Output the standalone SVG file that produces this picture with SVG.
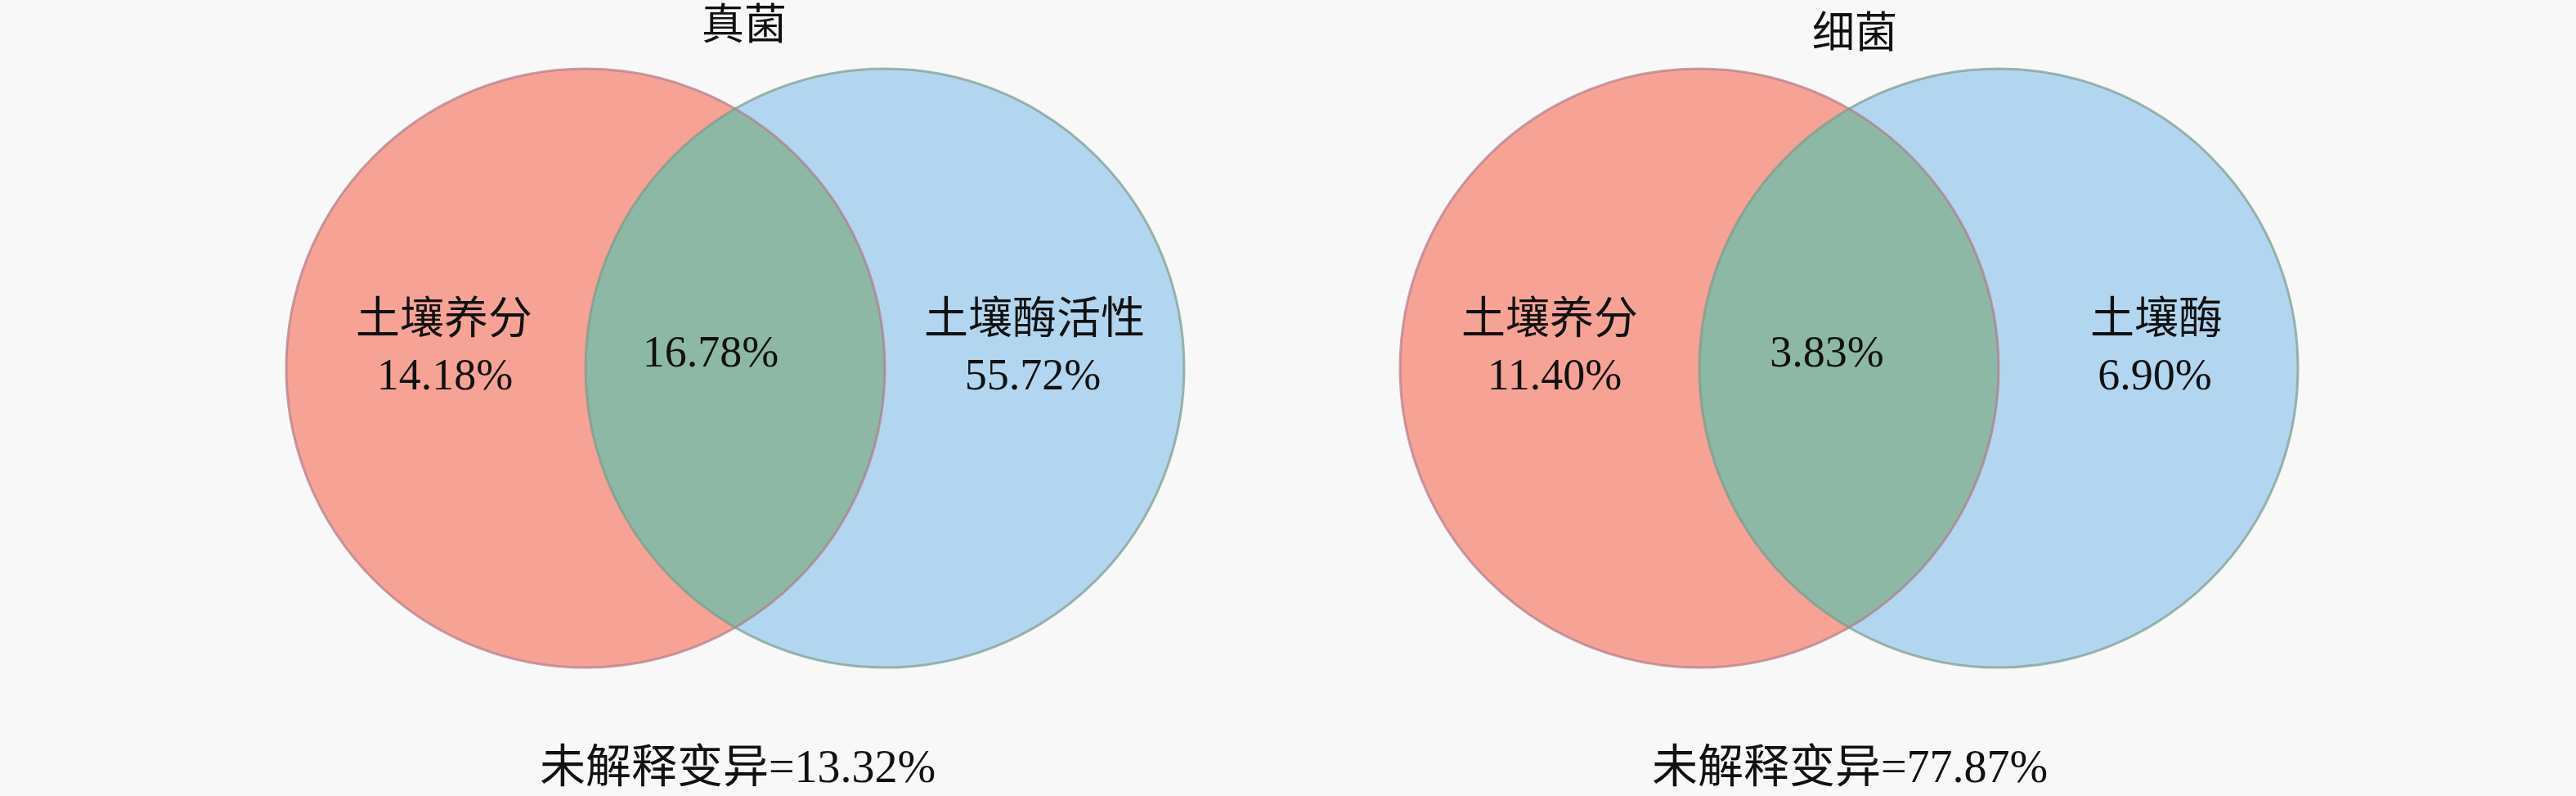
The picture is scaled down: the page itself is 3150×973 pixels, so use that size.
<svg xmlns="http://www.w3.org/2000/svg" width="3150" height="973" viewBox="0 0 3150 973">
<style>
.t{font-family:"Liberation Serif","Noto Sans CJK SC",serif;fill:#111;text-anchor:middle}
.ttl{font-size:52px}
.lbl{font-size:54px}
.btm{font-size:56px}
.red{fill:#F6A396}
.blue{fill:#B3D6F0}
.lens{fill:#8DB8A6}
.edge-r{fill:none;stroke:#b07a8a;stroke-opacity:0.7;stroke-width:3}
.edge-b{fill:none;stroke:#7a9a8a;stroke-opacity:0.7;stroke-width:3}
</style>
<rect width="3150" height="973" fill="#F8F8F8"/>
<g id="fungi">
  <g id="fungi-nutrients">
    <circle class="red" cx="716" cy="450" r="366"/>
  </g>
  <g id="fungi-enzyme">
    <circle class="blue" cx="1082" cy="450" r="366"/>
  </g>
  <g id="fungi-overlap">
    <path class="lens" d="M899,133 A366,366 0 0 1 899,767 A366,366 0 0 1 899,133 Z"/>
  </g>
  <circle class="edge-r" cx="716" cy="450" r="366"/>
  <circle class="edge-b" cx="1082" cy="450" r="366"/>
  <text class="t ttl" x="910" y="48">真菌</text>
  <text class="t lbl" x="543" y="408">土壤养分</text>
  <text class="t lbl" x="544" y="476">14.18%</text>
  <text class="t lbl" x="869" y="448">16.78%</text>
  <text class="t lbl" x="1265" y="408">土壤酶活性</text>
  <text class="t lbl" x="1263" y="476">55.72%</text>
  <text class="t btm" x="902" y="956">未解释变异=13.32%</text>
</g>
<g id="bacteria">
  <g id="bacteria-nutrients">
    <circle class="red" cx="2078" cy="450" r="366"/>
  </g>
  <g id="bacteria-enzyme">
    <circle class="blue" cx="2444" cy="450" r="366"/>
  </g>
  <g id="bacteria-overlap">
    <path class="lens" d="M2261,133 A366,366 0 0 1 2261,767 A366,366 0 0 1 2261,133 Z"/>
  </g>
  <circle class="edge-r" cx="2078" cy="450" r="366"/>
  <circle class="edge-b" cx="2444" cy="450" r="366"/>
  <text class="t ttl" x="2268" y="58">细菌</text>
  <text class="t lbl" x="1895" y="408">土壤养分</text>
  <text class="t lbl" x="1901" y="476">11.40%</text>
  <text class="t lbl" x="2234" y="448">3.83%</text>
  <text class="t lbl" x="2637" y="408">土壤酶</text>
  <text class="t lbl" x="2635" y="476">6.90%</text>
  <text class="t btm" x="2262" y="956">未解释变异=77.87%</text>
</g>
<g id="connectors"/>
</svg>
